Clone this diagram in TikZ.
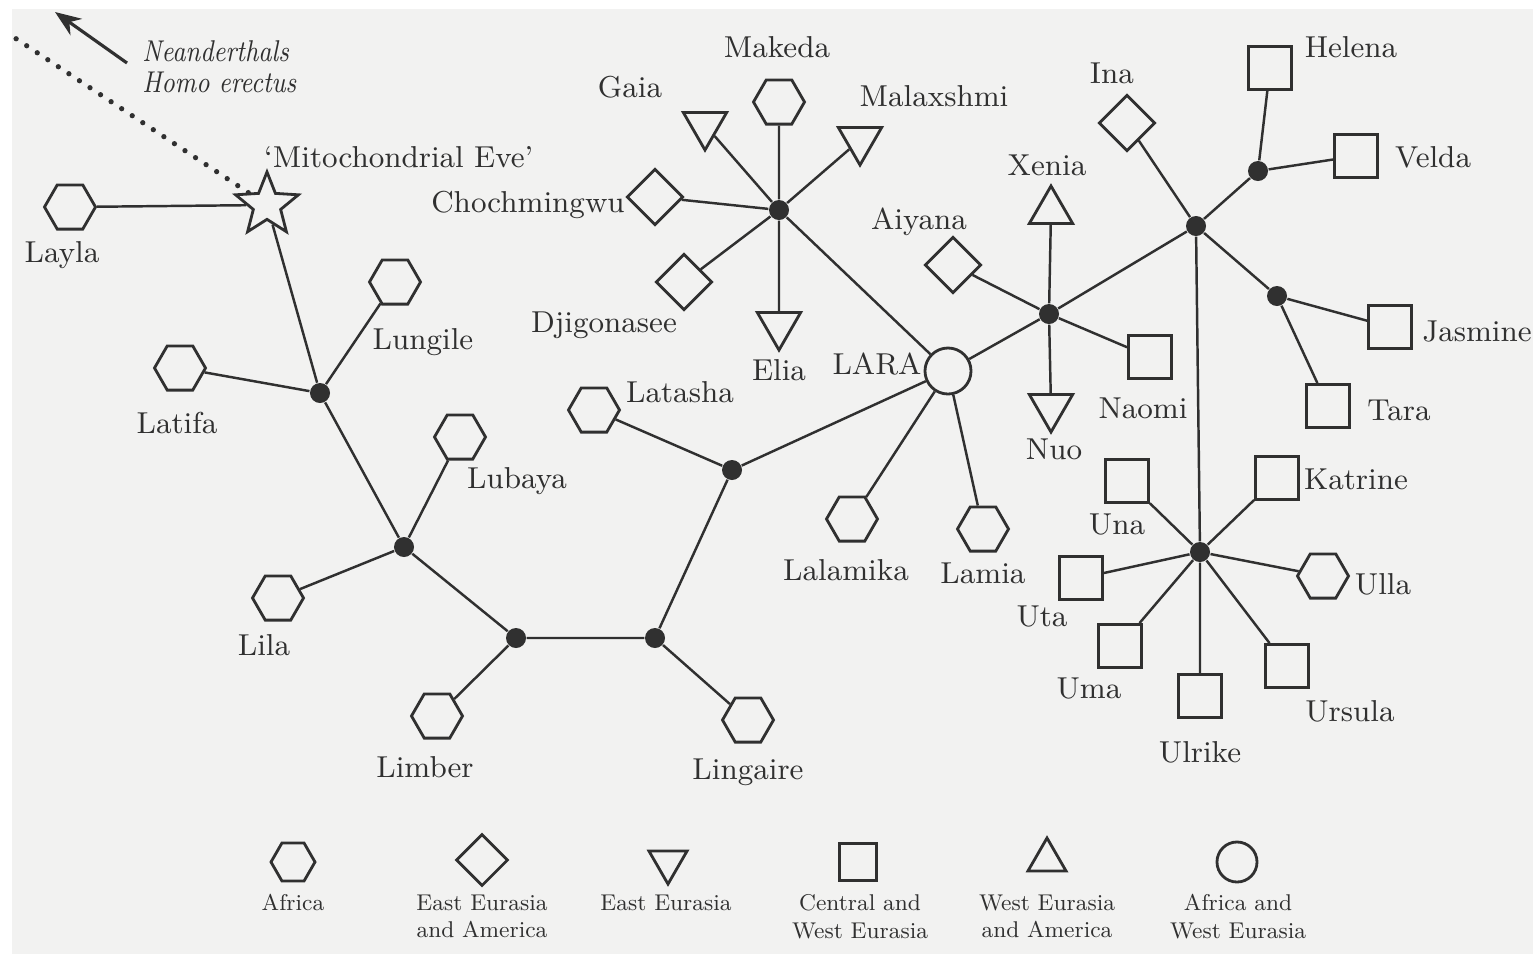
\documentclass[tikz,border=0pt]{standalone}
\usetikzlibrary{shapes.geometric,arrows.meta,positioning}
\definecolor{PaperGrey}{RGB}{242,242,241}
\definecolor{InkGrey}{RGB}{48,48,48}
\tikzset{
  shp/.style={draw=InkGrey, line width=0.8pt, fill=PaperGrey, inner sep=0pt},
  hexa/.style={shp, regular polygon, regular polygon sides=6, minimum size=0.51cm},
  dmnd/.style={shp, rectangle, rotate=45, minimum size=0.39cm},
  tridown/.style={shp, regular polygon, regular polygon sides=3, shape border rotate=180, minimum size=0.5cm},
  triup/.style={shp, regular polygon, regular polygon sides=3, minimum size=0.5cm},
  sqr/.style={shp, rectangle, minimum size=0.43cm},
  circ/.style={shp, circle, minimum size=0.46cm},
  junc/.style={circle, fill=InkGrey, inner sep=0pt, minimum size=0.2cm},
  lbl/.style={font=\fontsize{8.6}{10}\selectfont, text=InkGrey, inner sep=1pt},
  keytext/.style={font=\fontsize{9}{11}\selectfont, text=InkGrey, align=center, anchor=north,
    inner sep=0pt, scale=0.72, transform shape},
  link/.style={draw=InkGrey, line width=0.7pt}
}

\begin{document}
\begin{tikzpicture}[x=0.01cm, y=-0.01cm]
  \fill[white] (0,0) rectangle (1533,954);
  \fill[PaperGrey] (12,9) rectangle (1533,954);
  \useasboundingbox (0,0) rectangle (1533,954);

  % root and the African branches
  \node[shp, star, star points=5, star point ratio=2.3, minimum size=0.66cm] (eve) at (267,205) {};
  \node[hexa] (layla) at (70,207) {};
  \node[junc] (j1) at (320,393) {};
  \node[hexa] (lungile) at (395,282) {};
  \node[hexa] (latifa) at (180,368) {};
  \node[junc] (j2) at (404,547) {};
  \node[hexa] (lubaya) at (460,437) {};
  \node[hexa] (lila) at (278,598) {};
  \node[junc] (j3) at (516,638) {};
  \node[hexa] (limber) at (437,716) {};
  \node[junc] (j4) at (655,638) {};
  \node[hexa] (lingaire) at (748,720) {};
  \node[junc] (j5) at (732,470) {};
  \node[hexa] (latasha) at (594,410) {};
  \node[circ] (lara) at (948,371) {};
  \node[hexa] (lalamika) at (852,519) {};
  \node[hexa] (lamia) at (983,529) {};

  % east Eurasian star
  \node[junc] (j6) at (779,210) {};
  \node[hexa] (makeda) at (779,102) {};
  \node[tridown] (gaia) at (705,125) {};
  \node[tridown] (malaxshmi) at (860,140) {};
  \node[dmnd] (chochmingwu) at (655,197) {};
  \node[dmnd] (djigonasee) at (684,282) {};
  \node[tridown] (elia) at (779,325) {};

  % west Eurasian branches
  \node[junc] (j7) at (1049,314) {};
  \node[dmnd] (aiyana) at (953,265) {};
  \node[triup] (xenia) at (1051,211) {};
  \node[tridown] (nuo) at (1051,407) {};
  \node[sqr] (naomi) at (1150,357) {};
  \node[junc] (j8) at (1196,226) {};
  \node[dmnd] (ina) at (1127,123) {};
  \node[junc] (j9) at (1258,171) {};
  \node[sqr] (helena) at (1270,68) {};
  \node[sqr] (velda) at (1356,156) {};
  \node[junc] (j10) at (1277,296) {};
  \node[sqr] (jasmine) at (1390,327) {};
  \node[sqr] (tara) at (1328,406) {};
  \node[junc] (j11) at (1200,552) {};
  \node[sqr] (una) at (1127,481) {};
  \node[sqr] (katrine) at (1277,478) {};
  \node[sqr] (uta) at (1081,578) {};
  \node[hexa] (ulla) at (1323,576) {};
  \node[sqr] (uma) at (1120,646) {};
  \node[sqr] (ulrike) at (1200,696) {};
  \node[sqr] (ursula) at (1287,666) {};

  % connectors
  \draw[link] (eve) -- (layla) (eve) -- (j1);
  \draw[link] (j1) -- (lungile) (j1) -- (latifa) (j1) -- (j2);
  \draw[link] (j2) -- (lubaya) (j2) -- (lila) (j2) -- (j3);
  \draw[link] (j3) -- (limber) (j3) -- (j4);
  \draw[link] (j4) -- (lingaire) (j4) -- (j5);
  \draw[link] (j5) -- (latasha) (j5) -- (lara);
  \draw[link] (lara) -- (lalamika) (lara) -- (lamia) (lara) -- (j6) (lara) -- (j7);
  \draw[link] (j6) -- (makeda) (j6) -- (gaia) (j6) -- (malaxshmi)
    (j6) -- (chochmingwu) (j6) -- (djigonasee) (j6) -- (elia);
  \draw[link] (j7) -- (aiyana) (j7) -- (xenia) (j7) -- (nuo) (j7) -- (naomi) (j7) -- (j8);
  \draw[link] (j8) -- (ina) (j8) -- (j9) (j8) -- (j10) (j8) -- (j11);
  \draw[link] (j9) -- (helena) (j9) -- (velda);
  \draw[link] (j10) -- (jasmine) (j10) -- (tara);
  \draw[link] (j11) -- (una) (j11) -- (katrine) (j11) -- (uta) (j11) -- (ulla)
    (j11) -- (uma) (j11) -- (ulrike) (j11) -- (ursula);

  % older lineages
  \coordinate (far) at (15,38);
  \coordinate (arrtail) at (127,63);
  \coordinate (arrtip) at (55,12);
  \draw[InkGrey, line width=1.5pt, line cap=round, dash pattern=on 0pt off 3.6pt] (eve) -- (far);
  \draw[InkGrey, line width=0.9pt, -{Stealth[length=2.6mm, width=2mm]}] (arrtail) -- (arrtip);
  \node[lbl, font=\fontsize{9}{9.4}\selectfont\itshape, align=left, anchor=west,
    xscale=0.8, yscale=0.95, transform shape] (older) at (139,67) {Neanderthals\\Homo erectus};

  % names
  \node[lbl, anchor=west] (eve-t) at (260,157) {`Mitochondrial Eve'};
  \node[lbl] (layla-t) at (62,255) {Layla};
  \node[lbl] (lungile-t) at (423,342) {Lungile};
  \node[lbl] (latifa-t) at (177,423) {Latifa};
  \node[lbl] (lubaya-t) at (517,481) {Lubaya};
  \node[lbl] (lila-t) at (264,645) {Lila};
  \node[lbl] (limber-t) at (425,767) {Limber};
  \node[lbl] (lingaire-t) at (748,772) {Lingaire};
  \node[lbl] (latasha-t) at (680,392) {Latasha};
  \node[lbl] (lara-t) at (877,364) {LARA};
  \node[lbl] (lalamika-t) at (846,570) {Lalamika};
  \node[lbl] (lamia-t) at (983,573) {Lamia};
  \node[lbl] (makeda-t) at (777,47) {Makeda};
  \node[lbl] (gaia-t) at (630,87) {Gaia};
  \node[lbl] (malaxshmi-t) at (934,96) {Malaxshmi};
  \node[lbl] (chochmingwu-t) at (528,205) {Chochmingwu};
  \node[lbl] (djigonasee-t) at (604,325) {Djigonasee};
  \node[lbl] (elia-t) at (779,370) {Elia};
  \node[lbl] (aiyana-t) at (919,222) {Aiyana};
  \node[lbl] (xenia-t) at (1047,165) {Xenia};
  \node[lbl] (nuo-t) at (1054,449) {Nuo};
  \node[lbl] (naomi-t) at (1143,408) {Naomi};
  \node[lbl] (ina-t) at (1112,73) {Ina};
  \node[lbl] (helena-t) at (1351,47) {Helena};
  \node[lbl] (velda-t) at (1433,157) {Velda};
  \node[lbl] (jasmine-t) at (1477,331) {Jasmine};
  \node[lbl] (tara-t) at (1399,410) {Tara};
  \node[lbl] (una-t) at (1117,524) {Una};
  \node[lbl] (katrine-t) at (1356,479) {Katrine};
  \node[lbl] (uta-t) at (1042,616) {Uta};
  \node[lbl] (ulla-t) at (1383,584) {Ulla};
  \node[lbl] (uma-t) at (1089,688) {Uma};
  \node[lbl] (ulrike-t) at (1200,752) {Ulrike};
  \node[lbl] (ursula-t) at (1350,711) {Ursula};

  % key
  \node[hexa, minimum size=0.44cm] (key-af) at (293,862) {};
  \node[dmnd, minimum size=0.36cm] (key-eea) at (482,860) {};
  \node[tridown, minimum size=0.44cm] (key-ee) at (668,862) {};
  \node[sqr, minimum size=0.37cm] (key-cwe) at (858,862) {};
  \node[triup, minimum size=0.44cm] (key-wea) at (1047,860) {};
  \node[circ, minimum size=0.4cm] (key-afwe) at (1237,862) {};
  \node[keytext] (key-af-t) at (293,894) {Africa};
  \node[keytext] (key-eea-t) at (482,894) {East Eurasia\\and America};
  \node[keytext] (key-ee-t) at (666,894) {East Eurasia};
  \node[keytext] (key-cwe-t) at (860,894) {Central and\\West Eurasia};
  \node[keytext] (key-wea-t) at (1047,894) {West Eurasia\\and America};
  \node[keytext] (key-afwe-t) at (1238,894) {Africa and\\West Eurasia};
\end{tikzpicture}
\end{document}
